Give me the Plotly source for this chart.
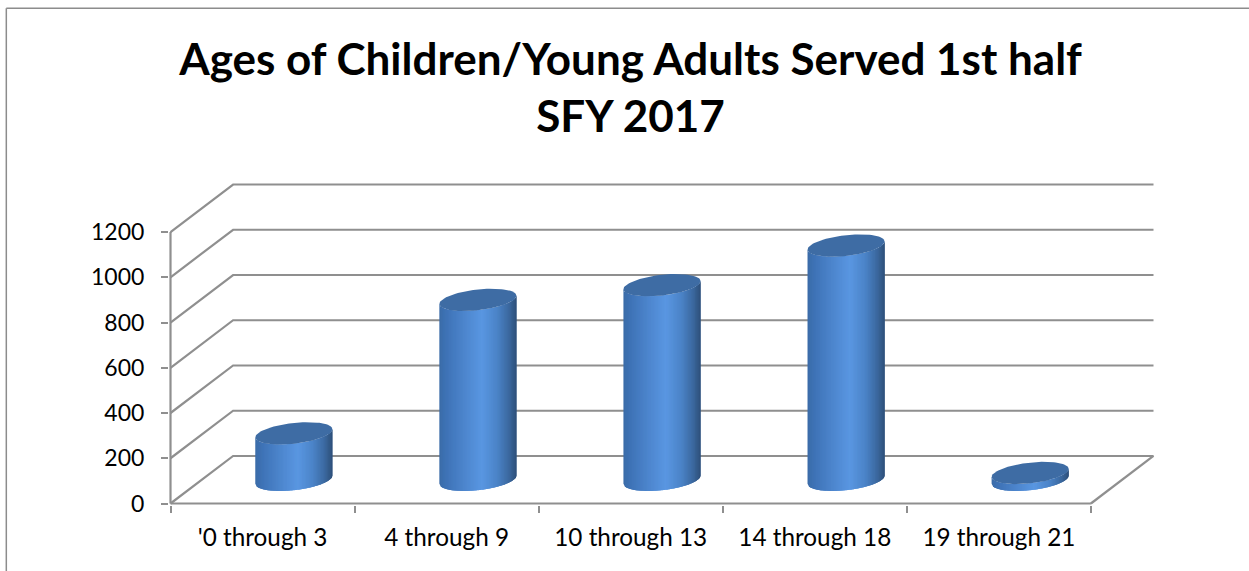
import numpy as np
import plotly.graph_objects as go

categories = ["'0 through 3", "4 through 9", "10 through 13", "14 through 18", "19 through 21"]
values = [205, 795, 860, 1035, 30]
y_ticks = [0, 200, 400, 600, 800, 1000, 1200]
title_lines = ["Ages of Children/Young Adults Served 1st half", "SFY 2017"]

# pseudo-3D geometry in axis units
DX, DY = 0.34, 210
RX, RY, TILT = 0.2095, 46, 18
N_STRIPS = 56
GRID = "#8f8f8f"
TOP = "#3E6CA4"
STOPS_T = [0, .10, .35, .55, .75, .90, 1]
STOPS_RGB = np.array([[0x3B, 0x6C, 0xA8], [0x3F, 0x74, 0xB8], [0x4F, 0x88, 0xD0], [0x5A, 0x97, 0xE2],
                      [0x4B, 0x84, 0xC8], [0x3C, 0x69, 0xA0], [0x2E, 0x50, 0x7A]], float)

X0, X1, Y1, Y0 = 170.3, 1154.0, 184.0, 503.5   # pixel box of the unpadded scene
PAD = 1.5
W, H = 1249, 571
SX = (X1 - X0) / (5 + DX)
SY = (Y0 - Y1) / (y_ticks[-1] + DY)
PL, PR, PT, PB = X0 - PAD, X1 + PAD, Y1 - PAD, Y0 + PAD

fig = go.Figure()

# walls / gridlines
gx, gy = [], []
for v in y_ticks:
    gx += [0, DX, 5 + DX, None]
    gy += [v, v + DY, v + DY, None]
gx += [5, 5 + DX, None]
gy += [0, DY, None]
fig.add_trace(go.Scatter(x=gx, y=gy, mode="lines", line=dict(color=GRID, width=2.2),
                         hoverinfo="skip", showlegend=False))
# front axis lines
fig.add_trace(go.Scatter(x=[0, 0, None, 0, 5], y=[0, y_ticks[-1], None, 0, 0], mode="lines",
                         line=dict(color=GRID, width=2.2), hoverinfo="skip", showlegend=False))

# cylinders
for i, (cat, val) in enumerate(zip(categories, values)):
    cx = i + 0.5 + DX / 2
    cy = DY / 2
    edges = np.linspace(-1, 1, N_STRIPS + 1)
    for k in range(N_STRIPS):
        u0, u1 = edges[k], edges[k + 1]
        tm = (u0 + u1 + 2) / 4
        rgb = [int(np.interp(tm, STOPS_T, STOPS_RGB[:, c])) for c in range(3)]
        u1o = min(1, u1 + 0.05)
        us = np.linspace(u0, u1o, 5)
        low = cy - RY * np.sqrt(np.clip(1 - us ** 2, 0, 1)) + TILT * us
        upp = low[::-1] + val
        xs = np.r_[cx + RX * us, cx + RX * us[::-1]]
        ys = np.r_[low, upp]
        fig.add_trace(go.Scatter(x=xs, y=ys, mode="lines", fill="toself", line=dict(width=0),
                                 fillcolor=f"rgb({rgb[0]},{rgb[1]},{rgb[2]})",
                                 hoverinfo="skip", showlegend=False))
    th = np.linspace(0, 2 * np.pi, 90)
    fig.add_trace(go.Scatter(x=cx + RX * np.cos(th),
                             y=cy + val + RY * np.sin(th) + TILT * np.cos(th),
                             mode="lines", fill="toself", line=dict(width=0), fillcolor=TOP,
                             name=cat, hovertemplate=f"{cat}: {val}<extra></extra>", showlegend=False))

sx0 = lambda px: (px - PL) / (PR - PL)
sy0 = lambda py: (PB - py) / (PB - PT)
fig.add_shape(type="line", xref="paper", yref="paper", x0=sx0(6), x1=sx0(6), y0=sy0(575), y1=sy0(7.5),
              line=dict(color="#8c8c8c", width=1.5))
fig.add_shape(type="line", xref="paper", yref="paper", x0=sx0(6), x1=sx0(1252), y0=sy0(7.5), y1=sy0(7.5),
              line=dict(color="#8c8c8c", width=1.5))

fig.update_layout(
    width=W, height=H, autosize=False,
    margin=dict(l=PL, r=W - PR, t=PT, b=H - PB, pad=0),
    paper_bgcolor="white", plot_bgcolor="white",
    font=dict(family="Lato", color="#000000"),
    title=dict(text="<b>" + "<br>".join(title_lines) + "</b>", font=dict(family="Lato", size=44, color="black"),
               x=630.5 / W, xanchor="center", y=1 - 74.5 / H, yanchor="top"),
    xaxis=dict(range=[-PAD / SX, 5 + DX + PAD / SX], tickmode="array", tickvals=[i + 0.5 for i in range(5)],
               ticktext=categories, ticks="", showgrid=False, zeroline=False, showline=False,
               tickfont=dict(size=24.3), ticklabelstandoff=16,
               minor=dict(tickmode="linear", tick0=0, dtick=1, ticks="outside", ticklen=7, tickwidth=2,
                          tickcolor=GRID, showgrid=False)),
    yaxis=dict(range=[-PAD / SY, y_ticks[-1] + DY + PAD / SY], tickmode="array", tickvals=y_ticks, ticks="outside",
               ticklen=7, tickwidth=2, tickcolor=GRID, showgrid=False, zeroline=False, showline=False,
               tickfont=dict(size=23), ticklabelstandoff=12),
)

fig.write_html("out.html", config=dict(displayModeBar=False),
               post_script="document.body.style.margin='0';document.body.style.overflow='hidden';")
